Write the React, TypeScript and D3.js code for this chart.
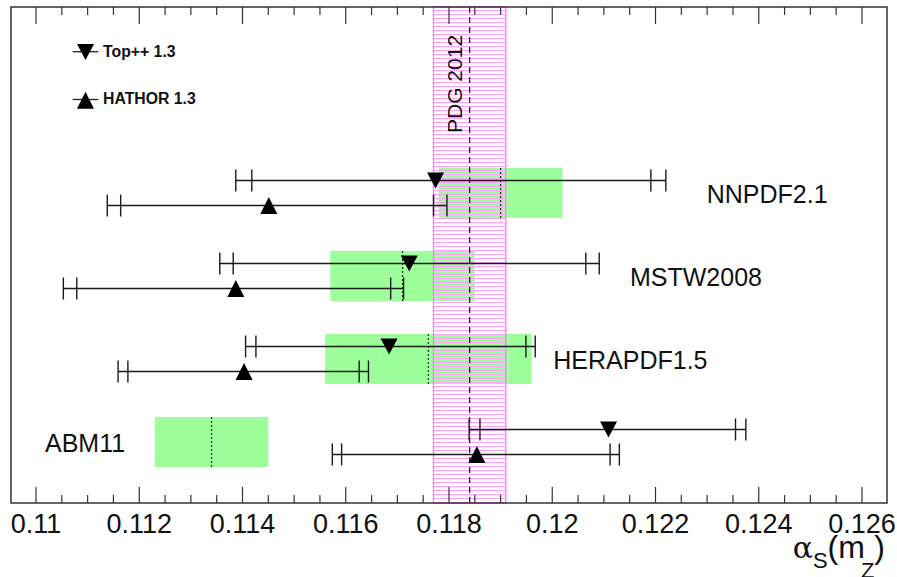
import React from "react";
import * as d3 from "d3";

// ---------- data ----------
const pdfSets = ["NNPDF2.1", "MSTW2008", "HERAPDF1.5", "ABM11"];
const pdfAlphaS = [0.119, 0.1171, 0.1176, 0.1134];
const pdfAlphaLo = [0.1178, 0.1157, 0.1156, 0.1123];
const pdfAlphaHi = [0.1202, 0.1185, 0.1196, 0.1145];

const topppCentral = [0.11774, 0.11723, 0.11684, 0.12109];
const topppOuterLo = [0.11387, 0.11356, 0.11406, 0.11839];
const topppInnerLo = [0.11418, 0.11382, 0.11426, 0.1186];
const topppInnerHi = [0.12191, 0.12065, 0.11949, 0.12355];
const topppOuterHi = [0.1222, 0.12091, 0.11967, 0.12375];

const hathorCentral = [0.11451, 0.11387, 0.11403, 0.11854];
const hathorOuterLo = [0.11138, 0.11053, 0.11159, 0.11574];
const hathorInnerLo = [0.11164, 0.11079, 0.11178, 0.11592];
const hathorInnerHi = [0.1177, 0.11687, 0.11626, 0.12112];
const hathorOuterHi = [0.11796, 0.11712, 0.11644, 0.1213];

const pdgAlphaS = 0.1184;
const pdgErr = 0.0007;
const pdgLabel = "PDG 2012";

const majorTicks = [0.11, 0.112, 0.114, 0.116, 0.118, 0.12, 0.122, 0.124, 0.126];
const tickLabels = ["0.11", "0.112", "0.114", "0.116", "0.118", "0.12", "0.122", "0.124", "0.126"];
const legendNames = ["Top++ 1.3", "HATHOR 1.3"];

// ---------- layout ----------
const W = 897;
const H = 577;
const frame = { left: 11, right: 887, top: 7, bottom: 503 };
const labelX = [706.7, 630, 553.3, 45];
const FONT = "'Liberation Sans', Arial, sans-serif";

export default function App() {
  const x = d3.scaleLinear().domain([0.11, 0.126]).range([36, 862]);
  const y = d3.scaleLinear().domain([0, 3]).range([193, 442]);
  const minorTicks = d3
    .range(0, 35)
    .map((i) => 0.1095 + i * 0.0005)
    .filter(
      (v) =>
        x(v) > frame.left + 1 &&
        x(v) < frame.right - 1 &&
        !majorTicks.some((m) => Math.abs(m - v) < 1e-7)
    );

  const down = (cx: number, cy: number) =>
    `M${cx - 8.5},${cy - 8}L${cx + 8.5},${cy - 8}L${cx},${cy + 8}Z`;
  const up = (cx: number, cy: number) =>
    `M${cx - 8.5},${cy + 8.5}L${cx + 8.5},${cy + 8.5}L${cx},${cy - 8.5}Z`;

  const errBar = (
    key: string,
    cy: number,
    oLo: number,
    iLo: number,
    iHi: number,
    oHi: number
  ) => (
    <g key={key} stroke="#1a1a1a" strokeWidth={1.4}>
      <line x1={x(oLo)} x2={x(oHi)} y1={cy} y2={cy} />
      {[oLo, iLo, iHi, oHi].map((v, j) => (
        <line key={j} x1={x(v)} x2={x(v)} y1={cy - 11} y2={cy + 11} />
      ))}
    </g>
  );

  const bandX0 = x(pdgAlphaS - pdgErr);
  const bandX1 = x(pdgAlphaS + pdgErr);

  return (
    <svg
      width={W}
      height={H}
      style={{ position: "absolute", left: 0, top: 0, background: "#fff" }}
      fontFamily={FONT}
    >
      <defs>
        <pattern id="hatch" patternUnits="userSpaceOnUse" width={8} height={4}>
          <line x1={0} x2={8} y1={2.5} y2={2.5} stroke="#ffa0ff" strokeWidth={1} />
        </pattern>
      </defs>
      <rect x={0} y={0} width={W} height={H} fill="#fff" />

      {/* PDF alpha_s boxes */}
      {pdfSets.map((_, i) => (
        <g key={"box" + i}>
          <rect
            x={x(pdfAlphaLo[i])}
            y={y(i) - 25}
            width={x(pdfAlphaHi[i]) - x(pdfAlphaLo[i])}
            height={50}
            fill="#9cff9a"
          />
          <line
            x1={x(pdfAlphaS[i])}
            x2={x(pdfAlphaS[i])}
            y1={y(i) - 25}
            y2={y(i) + 25}
            stroke="#222"
            strokeWidth={1.2}
            strokeDasharray="2,2"
          />
        </g>
      ))}

      {/* PDG band */}
      <rect
        x={bandX0}
        y={frame.top}
        width={bandX1 - bandX0}
        height={frame.bottom - frame.top}
        fill="url(#hatch)"
        stroke="#ff77ff"
        strokeWidth={1.3}
      />
      <line
        x1={x(pdgAlphaS)}
        x2={x(pdgAlphaS)}
        y1={frame.top}
        y2={frame.bottom}
        stroke="#222"
        strokeWidth={1.3}
        strokeDasharray="6,4"
      />
      <text transform={`translate(462,133) rotate(-90)`} fontSize={21} fill="#111">
        {pdgLabel}
      </text>

      {/* error bars and markers */}
      {pdfSets.map((_, i) =>
        errBar("t" + i, y(i) - 12.5, topppOuterLo[i], topppInnerLo[i], topppInnerHi[i], topppOuterHi[i])
      )}
      {pdfSets.map((_, i) =>
        errBar("h" + i, y(i) + 12.5, hathorOuterLo[i], hathorInnerLo[i], hathorInnerHi[i], hathorOuterHi[i])
      )}
      {pdfSets.map((_, i) => (
        <path key={"mt" + i} d={down(x(topppCentral[i]), y(i) - 12.5)} fill="#000" />
      ))}
      {pdfSets.map((_, i) => (
        <path key={"mh" + i} d={up(x(hathorCentral[i]), y(i) + 12.5)} fill="#000" />
      ))}

      {/* PDF labels */}
      {pdfSets.map((name, i) => (
        <text key={"lab" + i} x={labelX[i]} y={y(i) + 10} fontSize={25} fill="#111">
          {name}
        </text>
      ))}

      {/* legend */}
      <g stroke="#222" strokeWidth={1.3}>
        <line x1={72.7} x2={98.3} y1={51.7} y2={51.7} />
        <line x1={72.7} x2={98.3} y1={99.5} y2={99.5} />
      </g>
      <path d={down(85.5, 52)} fill="#000" />
      <path d={up(85.5, 100.2)} fill="#000" />
      <text x={103} y={57.3} fontSize={15.8} fontWeight="bold" fill="#111">
        {legendNames[0]}
      </text>
      <text x={103} y={104.3} fontSize={15.8} fontWeight="bold" fill="#111">
        {legendNames[1]}
      </text>

      {/* ticks */}
      <g stroke="#333" strokeWidth={1.2}>
        {majorTicks.map((v) => (
          <g key={"M" + v}>
            <line x1={x(v)} x2={x(v)} y1={frame.bottom} y2={frame.bottom - 16} />
            <line x1={x(v)} x2={x(v)} y1={frame.top} y2={frame.top + 17} />
          </g>
        ))}
        {minorTicks.map((v) => (
          <g key={"m" + v}>
            <line x1={x(v)} x2={x(v)} y1={frame.bottom} y2={frame.bottom - 8} />
            <line x1={x(v)} x2={x(v)} y1={frame.top} y2={frame.top + 8} />
          </g>
        ))}
      </g>

      {/* frame */}
      <rect
        x={frame.left}
        y={frame.top}
        width={frame.right - frame.left}
        height={frame.bottom - frame.top}
        fill="none"
        stroke="#333"
        strokeWidth={1.5}
      />

      {/* tick labels */}
      {majorTicks.map((v, i) => (
        <text key={"tl" + v} x={x(v)} y={533} fontSize={27} textAnchor="middle" fill="#111">
          {tickLabels[i]}
        </text>
      ))}

      {/* axis title */}
      <text x={885} y={558} fontSize={32} textAnchor="end" fill="#111">
        <tspan fontFamily="'DejaVu Serif', serif" fontSize={30}>α</tspan>
        <tspan fontSize={22} dy={10}>S</tspan>
        <tspan dy={-10}>(m</tspan>
        <tspan fontSize={22} dy={20} dx={-4}>Z</tspan>
        <tspan dy={-20}>)</tspan>
      </text>
    </svg>
  );
}
